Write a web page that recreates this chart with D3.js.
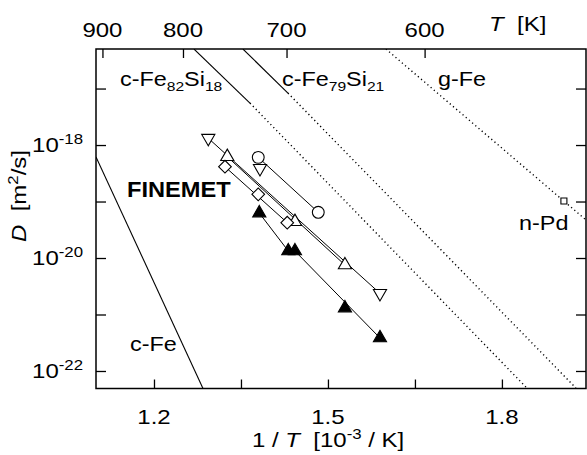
<!DOCTYPE html>
<html>
<head>
<meta charset="utf-8">
<script src="https://cdn.jsdelivr.net/npm/d3@7"></script>
<style>
  body { margin: 0; background: #fff; }
  svg { display: block; font-family: "Liberation Sans", Arial, sans-serif; }
  svg text { white-space: pre; }
  .axis path { display: none; }
  .axis line { stroke: #000; stroke-width: 1.3; }
</style>
</head>
<body>
<script>
// 1/T in 10^-3/K, D in m^2/s
let triDownSer = [[1.2936, 1.32e-18], [1.5897, 2.37e-21]]
let triDownOne = [[1.3828, 3.87e-19]]
let triUpSer = [[1.3264, 6.21e-19], [1.4431, 4.39e-20], [1.5293, 7.52e-21]]
let diamondSer = [[1.3224, 4.13e-19], [1.3798, 1.34e-19], [1.4298, 4.22e-20]]
let circleSer = [[1.3798, 6.05e-19], [1.4833, 6.44e-20]]
let triFillA = [[1.3816, 6.25e-20], [1.4316, 1.33e-20]]
let triFillB = [[1.4431, 1.33e-20], [1.5293, 1.30e-21], [1.5897, 3.84e-22]]
let nPd = [[1.9069, 1.02e-19]]

// reference diffusion lines
let cFe = [[1.1, 6.17e-19], [1.2845, 4.9e-23]]
let fe82Solid = [[1.269, 5.0e-17], [1.3655, 5.53e-18]]
let fe82Dot = [[1.3655, 5.53e-18], [1.843, 5.0e-23]]
let fe79Solid = [[1.3534, 5.0e-17], [1.431, 8.32e-18]]
let fe79Dot = [[1.431, 8.32e-18], [1.9276, 5.0e-23]]
let gFeDot = [[1.6, 5.0e-17], [1.945, 4.71e-20]]

let xTicks = [1.2, 1.35, 1.5, 1.65, 1.8, 1.95]
let xTickLabels = [1.2, 1.5, 1.8]
let tTicks = [900, 800, 700, 600]
let yExp = [-22, -21, -20, -19, -18, -17]
let yExpLabels = [-22, -20, -18]

let width = 587, height = 455
let margin = {top: 49, bottom: 66.5, left: 96, right: 1}
let w = width - margin.left - margin.right
let h = height - margin.top - margin.bottom
let stretch = 1.2 // the original lettering is wider than Helvetica

let xScale = d3.scaleLinear().domain([1.1, 1.945]).range([0, w])
let yScale = d3.scaleLog().domain([Math.pow(10, -22.31), Math.pow(10, -16.3)]).range([h, 0])

let svg = d3.select("body").append("svg")
    .attr("width", width)
    .attr("height", height)

let plot = svg.append("g")
    .attr("transform", "translate(" + margin.left + "," + margin.top + ")")

plot.append("clipPath").attr("id", "clip")
  .append("rect").attr("width", w).attr("height", h)

// text helper: stretched horizontally
function txt(parent, x, y, size, anchor, rot, sx) {
  return parent.append("text")
    .attr("transform", "translate(" + x + "," + y + ")" + (rot ? " rotate(" + rot + ")" : "") + " scale(" + (sx || stretch) + ",1)")
    .attr("text-anchor", anchor || "start")
    .style("font-size", size + "px")
}

// axes, ticks pointing inward
plot.append("g")
    .attr("class", "axis")
    .attr("transform", "translate(0," + h + ")")
    .call(d3.axisBottom(xScale).tickValues(xTicks).tickSize(-9).tickFormat(""))

plot.append("g")
    .attr("class", "axis")
    .call(d3.axisTop(xScale).tickValues(tTicks.map(t => 1000 / t)).tickSize(-9).tickFormat(""))

plot.append("g")
    .attr("class", "axis")
    .call(d3.axisLeft(yScale).tickValues(yExp.map(e => Math.pow(10, e))).tickSize(-10).tickFormat(""))

plot.append("g")
    .attr("class", "axis")
    .attr("transform", "translate(" + w + ",0)")
    .call(d3.axisRight(yScale).tickValues(yExp.map(e => Math.pow(10, e))).tickSize(-10).tickFormat(""))

xTickLabels.forEach(v => txt(plot, xScale(v), h + 35, 20, "middle").text(d3.format(".1f")(v)))
tTicks.forEach(t => txt(plot, xScale(1000 / t), -12, 20, "middle").text(t))
yExpLabels.forEach(e => {
  let t = txt(plot, -13, yScale(Math.pow(10, e)) + 7, 20, "end")
  t.append("tspan").text("10")
  t.append("tspan").attr("dy", -8).style("font-size", "14px").text(e)
})

plot.append("rect")
    .attr("width", w)
    .attr("height", h)
    .attr("fill", "none")
    .attr("stroke", "#000")
    .attr("stroke-width", 1.5)

// reference lines
let line = d3.line().x(d => xScale(d[0])).y(d => yScale(d[1]))
let refs = plot.append("g").attr("clip-path", "url(#clip)")
;[cFe, fe82Solid, fe79Solid].forEach(s => {
  refs.append("path").datum(s).attr("d", line)
    .attr("fill", "none").attr("stroke", "#000").attr("stroke-width", 1.1)
})
;[fe82Dot, fe79Dot, gFeDot].forEach(s => {
  refs.append("path").datum(s).attr("d", line)
    .attr("fill", "none").attr("stroke", "#000").attr("stroke-width", 1.4)
    .attr("stroke-dasharray", "1.2,3")
})

// FINEMET fit lines, first to last point
let groups = [triDownSer, triUpSer, diamondSer, circleSer, triFillA, triFillB]
groups.forEach(s => {
  plot.append("path").datum([s[0], s[s.length - 1]]).attr("d", line)
    .attr("fill", "none").attr("stroke", "#000").attr("stroke-width", 1)
})

function markers(data, type, size, rot, fill) {
  plot.append("g").selectAll("path")
    .data(data)
    .enter().append("path")
    .attr("d", d3.symbol().type(type).size(size))
    .attr("transform", d => "translate(" + xScale(d[0]) + "," + yScale(d[1]) + ") rotate(" + rot + ")")
    .attr("fill", fill)
    .attr("stroke", "#000")
    .attr("stroke-width", 1.1)
}
markers(triDownSer, d3.symbolTriangle, 75, 180, "#fff")
markers(triDownOne, d3.symbolTriangle, 75, 180, "#fff")
markers(triUpSer, d3.symbolTriangle, 75, 0, "#fff")
markers(diamondSer, d3.symbolSquare, 80, 45, "#fff")
markers(circleSer, d3.symbolCircle, 110, 0, "#fff")
markers(triFillA, d3.symbolTriangle, 75, 0, "#000")
markers(triFillB, d3.symbolTriangle, 75, 0, "#000")
markers(nPd, d3.symbolSquare, 36, 0, "#fff")

// labels
function subLabel(x, y, parts) {
  let t = txt(svg, x, y, 19.5)
  parts.forEach(p => {
    if (p[1] == "sub") t.append("tspan").attr("dy", 5).style("font-size", "13px").text(p[0])
    else if (p[1] == "up") t.append("tspan").attr("dy", -5).text(p[0])
    else t.append("tspan").text(p[0])
  })
  return t
}
subLabel(120, 86, [["c-Fe"], ["82", "sub"], ["Si", "up"], ["18", "sub"]])
subLabel(282, 86, [["c-Fe"], ["79", "sub"], ["Si", "up"], ["21", "sub"]])
subLabel(438, 86, [["g-Fe"]])
subLabel(130, 351, [["c-Fe"]])
subLabel(519, 230, [["n-Pd"]])
txt(svg, 127, 197, 21.5, "start", 0, 1.1).style("font-weight", "bold").text("FINEMET")

// axis titles
let tt = txt(svg, 489, 31, 20)
tt.append("tspan").style("font-style", "italic").text("T")
tt.append("tspan").text("  [K]")

let bt = txt(svg, 252, 447, 20)
bt.append("tspan").text("1 / ")
bt.append("tspan").style("font-style", "italic").text("T")
bt.append("tspan").text("  [10")
bt.append("tspan").attr("dy", -8).style("font-size", "14px").text("-3")
bt.append("tspan").attr("dy", 8).text(" / K]")

let lt = txt(svg, 26, 242, 20, "start", -90)
lt.append("tspan").style("font-style", "italic").text("D")
lt.append("tspan").text("  [m")
lt.append("tspan").attr("dy", -8).style("font-size", "14px").text("2")
lt.append("tspan").attr("dy", 8).text("/s]")
</script>
</body>
</html>
